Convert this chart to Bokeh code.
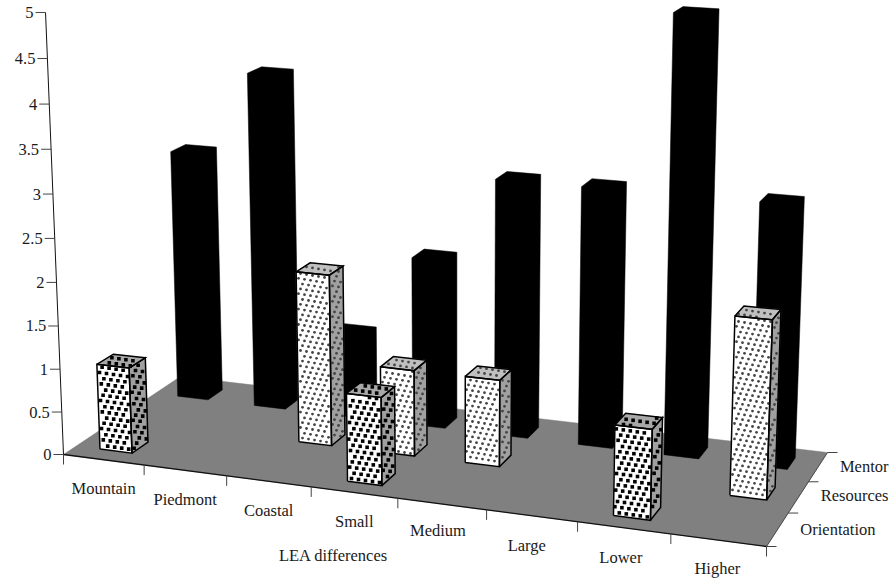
import numpy as np
from bokeh.core.properties import value
from bokeh.embed import file_html
from bokeh.models import Range1d
from bokeh.plotting import figure
from bokeh.resources import INLINE

categories = ["Mountain", "Piedmont", "Coastal", "Small", "Medium", "Large", "Lower", "Higher"]
series = ["Orientation", "Resources", "Mentor"]
orientation = [1, None, None, 1, None, None, 1, None]
resources = [None, None, 2, 1, 1, None, None, 2]
mentor = [3, 4, 1, 2, 3, 3, 5, 3]
value_ticks = [0, 0.5, 1, 1.5, 2, 2.5, 3, 3.5, 4, 4.5, 5]
value_labels = ["0", "0.5", "1", "1.5", "2", "2.5", "3", "3.5", "4", "4.5", "5"]
axis_title = "LEA differences"

FONT = value("Liberation Serif")
FONT_SIZE = "16.5px"
TEXT = "#1a1a1a"

# Perspective camera: the floor's four corners on the page, and the point
# where all verticals converge.
src = [(0, 0), (8, 0), (8, 3), (0, 3)]
dst = [(63, 454), (766, 546), (827, 452), (180, 376)]
A, b = [], []
for (u, v), (x, y) in zip(src, dst):
    A.append([u, v, 1, 0, 0, 0, -u * x, -v * x])
    A.append([0, 0, 0, u, v, 1, -u * y, -v * y])
    b += [x, y]
H = np.append(np.linalg.solve(np.array(A, float), np.array(b, float)), 1).reshape(3, 3)
VERT = -0.00872 * np.array([457.0, 10150.0, 1.0])


def project(u, v, w=0.0):
    h = H @ np.array([u, v, 1.0]) + w * VERT
    return h[0] / h[2], h[1] / h[2]


p = figure(width=891, height=579, output_backend="svg", toolbar_location=None,
           x_range=Range1d(0, 891), y_range=Range1d(579, 0), min_border=0,
           background_fill_color="white", border_fill_color="white", outline_line_color=None)
p.xaxis.visible = False
p.yaxis.visible = False
p.grid.visible = False


def polygon(points, color):
    xs, ys = zip(*points)
    p.patch(list(xs), list(ys), fill_color=color, line_color=color, line_width=0.5)


def seg(a, b, width=1.0, color="#111111"):
    p.line([a[0], b[0]], [a[1], b[1]], line_color=color, line_width=width)


def label(x, y, text, align="center"):
    p.text([x], [y], text=[text], text_font=FONT, text_font_size=FONT_SIZE, text_color=TEXT,
           text_align=align, text_baseline="middle")


# Floor
polygon([project(*c) for c in src], "#808080")
seg(project(0, 0), project(8, 0), 1.3)
seg(project(8, 0), project(8, 3), 0.8, "#333333")

# Category ticks along the front edge
for i in range(9):
    x, y = project(i, 0)
    seg((x, y), (x, y + 10), 1.0, "#444444")
label_shift = [(0, 0), (0, 0), (0, 0), (0, 0), (-4, -3), (-5, 1), (-3, 1), (-1, -1)]
for i, name in enumerate(categories):
    x, y = project(i + 0.5, 0)
    label(x + label_shift[i][0], y + 29 + label_shift[i][1], name)
label(333, 555, axis_title)

# Series ticks along the right edge
for j in range(4):
    x, y = project(8, j)
    seg((x, y), (x + 10, y), 1.0, "#444444")
for name, x, y in zip(series, (875, 888, 888), (529, 495, 466)):
    label(x, y, name, align="right")

# Value axis
seg(project(0, 0, 0), project(0, 0, 5), 1.0)
for tick, text in zip(value_ticks, value_labels):
    x, y = project(0, 0, tick)
    seg((x, y), (x - 10, y), 1.0, "#444444")
    label(x - 12, y, text, align="right")


def texture(points, basis_a, basis_b, marker, size, color):
    """Half-tone dots on a slanted screen lattice, kept inside a convex face."""
    pts = np.array(points)
    centre = pts.mean(axis=0)
    n = np.arange(-60, 61)
    ii, jj = np.meshgrid(n, n)
    snap = np.round(centre / 50) * 50
    dx = (snap[0] + ii * basis_a[0] + jj * basis_b[0]).ravel()
    dy = (snap[1] + ii * basis_a[1] + jj * basis_b[1]).ravel()
    dists = []
    for a, b_ in zip(pts, np.roll(pts, -1, axis=0)):
        edge = np.hypot(*(b_ - a))
        dists.append(((b_[0] - a[0]) * (dy - a[1]) - (b_[1] - a[1]) * (dx - a[0])) / edge)
    dists = np.array(dists)
    inside = np.all(dists >= 1.2, axis=0) | np.all(dists <= -1.2, axis=0)
    p.scatter(dx[inside], dy[inside], marker=marker, size=size, fill_color=color, line_color=None)


def bar(i, j, height, style):
    u0, u1 = i + 0.5 - 0.2, i + 0.5 + 0.2
    v0, v1 = j + 0.5 - 0.2, j + 0.5 + 0.2
    front = [project(u0, v0, 0), project(u1, v0, 0), project(u1, v0, height), project(u0, v0, height)]
    side = [project(u1, v0, 0), project(u1, v1, 0), project(u1, v1, height), project(u1, v0, height)]
    top = [project(u0, v0, height), project(u1, v0, height), project(u1, v1, height), project(u0, v1, height)]
    if style == "solid":
        # Mentor bars read as one black silhouette
        polygon([front[0], front[1], side[1], side[2], top[3], front[3]], "#000000")
        return
    if style == "dense":
        faces = ((front, "#ffffff"), (side, "#a0a0a0"), (top, "#a8a8a8"))
        dots = dict(basis_a=(7.0, 1.0), basis_b=(-2.6, 5.2), marker="square", size=3.6, color="#000000")
    else:
        faces = ((front, "#ffffff"), (side, "#a0a0a0"), (top, "#c0c0c0"))
        dots = dict(basis_a=(6.0, 1.0), basis_b=(-2.0, 4.8), marker="circle", size=2.8, color="#444444")
    for face, color in faces:
        polygon(face, color)
        texture(face, **dots)
    for face, _ in faces:
        xs, ys = zip(*(face + face[:1]))
        p.line(list(xs), list(ys), line_color="#000000", line_width=1.5, line_join="miter")


# Bars, painted from the back row to the front row
for row, values, style in ((2, mentor, "solid"), (1, resources, "light"), (0, orientation, "dense")):
    for i, val in enumerate(values):
        if val is not None:
            bar(i, row, val, style)

open("out.html", "w").write(file_html(p, INLINE))
